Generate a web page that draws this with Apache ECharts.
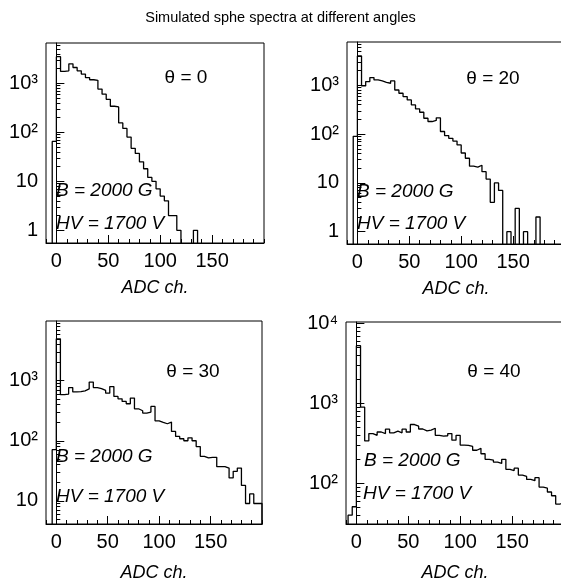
<!DOCTYPE html>
<html><head><meta charset="utf-8">
<script src="https://cdn.jsdelivr.net/npm/echarts@6/dist/echarts.min.js"></script>
<style>html,body{margin:0;padding:0;background:#fff}#c{width:561px;height:585px}</style>
</head><body><div id="c"></div>
<script>
// ---- data ----
const binLow = [-8,-4,0,4,8,12,16,20,24,28,32,36,40,44,48,52,56,60,64,68,72,76,80,84,88,92,96,100,104,108,112,116,120,124,128,132,136,140,144,148,152,156,160,164,168,172,176,180,184,188,192,196];
const binWidth = 4;
const counts0 = [0,65,3500,1750,1800,2500,2100,1800,1540,1310,1180,1150,760,600,470,340,330,155,120,80,47,37,25,18,12,10,7,5,4,2,2,1,0,0,0,1,0,0,0,0,0,0,0,0,0,0,0,0,0,0,0,0];
const counts20 = [0,90,4000,970,1190,1435,1285,1227,1150,1100,1227,800,686,586,500,396,328,280,211,181,190,215,113,93,82,72,60,41,32,22,21,23,17,12,4,10,7,0,1,0,3,0,1,0,0,2,0,0,0,0,0,0];
const counts30 = [0,71,5000,585,600,770,650,660,680,730,950,770,740,690,620,800,547,500,452,414,515,341,316,289,300,373,215,202,192,205,143,118,108,100,112,100,80,55,52,53,53,37,37,35,24,31,35,18,9,13,9,9];
const counts40 = [40,51,5300,900,340,420,400,440,420,478,430,450,430,478,440,546,520,480,455,465,490,400,390,395,420,348,400,302,300,290,260,275,235,200,196,185,178,200,150,145,155,127,122,112,108,118,90,87,78,70,55,58];
const angleLabels = ['θ = 0','θ = 20','θ = 30','θ = 40'];
const xTickLabels = [0,50,100,150];
const xMinorTicks = [-10,10,20,30,40,60,70,80,90,110,120,130,140,160,170,180,190,200];
const yDecades = [1,10,100,1000,10000];
const yMinorTicks = [2,3,4,5,6,7,8,9,20,30,40,50,60,70,80,90,200,300,400,500,600,700,800,900,2000,3000,4000,5000,6000,7000,8000,9000];
const yMins = [0.55,0.56,4.1,31];
const yMaxs = [6640,7700,9900,10500];
const titleText = 'Simulated sphe spectra at different angles';
const fieldText = 'B = 2000 G';
const hvText = 'HV = 1700 V';
const xName = 'ADC ch.';

// ---- layout ----
const FONT = "'Liberation Sans', Arial, Helvetica, sans-serif";
const grids = [
  {left:46, top:43, width:218, height:200},
  {left:347, top:42, width:218, height:202},
  {left:46, top:321, width:216, height:203},
  {left:346, top:322, width:218, height:202}
];
const nameGaps = [36,36,40,40];
const anglePos = [[186,78],[493,79],[193,372],[494,372]];
const bPos = [[56,191],[357,192],[56,457],[364,461]];
const hvPos = [[56,224],[357,224],[56,497],[363,494]];
const allCounts = [counts0, counts20, counts30, counts40];
const sup = {2:'²',3:'³',4:'⁴'};
function yFmt(v){
  const e = Math.round(Math.log10(v));
  if (e === 0) return '1';
  if (e === 1) return '10';
  return '10' + (sup[e] || '');
}
function stepData(counts, floor){
  const d = [[binLow[0], floor]];
  binLow.forEach((x,i)=>d.push([x, counts[i] > 0 ? counts[i] : floor]));
  d.push([binLow[binLow.length-1] + binWidth, floor]);
  return d;
}

const option = {
  animation:false,
  backgroundColor:'#fff',
  textStyle:{fontFamily:FONT},
  title:{text:titleText, left:'center', top:5,
    textStyle:{fontSize:14.5, fontWeight:'normal', color:'#000', fontFamily:FONT}},
  grid:[], xAxis:[], yAxis:[], series:[], graphic:[]
};

grids.forEach((g,i)=>{
  option.grid.push(Object.assign({show:true, borderColor:'#000', borderWidth:1, backgroundColor:'transparent', outerBoundsMode:'none', containLabel:false}, g));
  const mn = yMins[i], mx = yMaxs[i];
  const yMaj = yDecades.filter(v=>v>=mn && v<=mx);
  const yMin2 = yMinorTicks.filter(v=>v>=mn && v<=mx);
  option.xAxis.push({
    gridIndex:i, type:'value', min:-10, max:200, position:'bottom',
    axisLine:{show:true, lineStyle:{color:'#000', width:1}},
    axisTick:{show:true, inside:true, length:8, customValues:xTickLabels, lineStyle:{color:'#000', width:1}},
    axisLabel:{customValues:xTickLabels, fontSize:20, color:'#000', margin:8, fontFamily:FONT},
    splitLine:{show:false},
    name:xName, nameLocation:'middle', nameGap:nameGaps[i],
    nameTextStyle:{fontStyle:'italic', fontSize:18, color:'#000', fontFamily:FONT}
  });
  option.xAxis.push({
    gridIndex:i, type:'value', min:-10, max:200, position:'bottom',
    axisLine:{show:false},
    axisTick:{show:true, inside:true, length:4, customValues:xMinorTicks, lineStyle:{color:'#000', width:1}},
    axisLabel:{show:false}, splitLine:{show:false}
  });
  option.yAxis.push({
    gridIndex:i, type:'log', logBase:10, min:mn, max:mx, position:'left',
    axisLine:{show:true, lineStyle:{color:'#000', width:1}},
    axisTick:{show:true, inside:true, length:8, customValues:yMaj, lineStyle:{color:'#000', width:1}},
    axisLabel:{customValues:yMaj, formatter:yFmt, fontSize:20, color:'#000', margin:8, fontFamily:FONT},
    splitLine:{show:false}
  });
  option.yAxis.push({
    gridIndex:i, type:'log', logBase:10, min:mn, max:mx, position:'left',
    axisLine:{show:false},
    axisTick:{show:true, inside:true, length:4, customValues:yMin2, lineStyle:{color:'#000', width:1}},
    axisLabel:{show:false}, splitLine:{show:false}
  });
  option.series.push({
    type:'line', xAxisIndex:2*i, yAxisIndex:2*i, step:'end', symbol:'none', clip:true,
    data:stepData(allCounts[i], mn/10),
    lineStyle:{color:'#000', width:1.3}
  });
  option.graphic.push({type:'text', x:anglePos[i][0], y:anglePos[i][1],
    style:{text:angleLabels[i], fontSize:19, fontFamily:FONT, fill:'#000', align:'center', verticalAlign:'middle'}});
  option.graphic.push({type:'text', x:bPos[i][0], y:bPos[i][1],
    style:{text:fieldText, fontSize:19, fontStyle:'italic', fontFamily:FONT, fill:'#000', align:'left', verticalAlign:'middle'}});
  option.graphic.push({type:'text', x:hvPos[i][0], y:hvPos[i][1],
    style:{text:hvText, fontSize:19, fontStyle:'italic', fontFamily:FONT, fill:'#000', align:'left', verticalAlign:'middle'}});
});

const chart = echarts.init(document.getElementById('c'), null, {renderer:'canvas'});
chart.setOption(option);
</script>
</body></html>
